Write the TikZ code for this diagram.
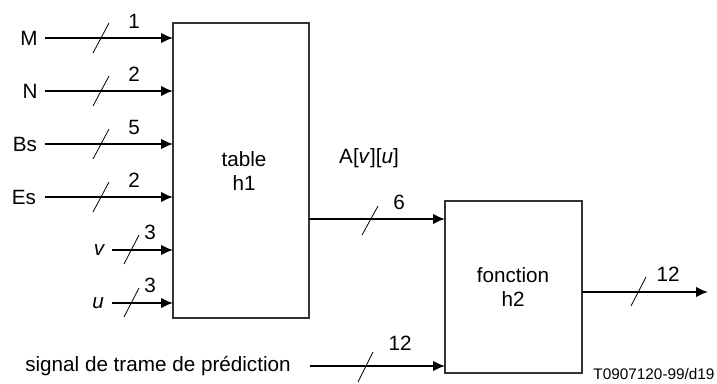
\documentclass[tikz,border=0pt]{standalone}
\usepackage{fontspec}
\setmainfont{Liberation Sans}
\usetikzlibrary{arrows.meta}
\begin{document}
\begin{tikzpicture}[x=0.75pt,y=-0.75pt,
  lbl/.style={inner sep=0pt,font=\fontsize{15.5}{17}\selectfont},
  blk/.style={draw=black!80,line width=0.9pt,inner sep=0pt},
  sig/.style={line width=1.4pt,-{Latex[length=9pt,width=8pt]}},
  slash/.style={line width=0.6pt}]
\useasboundingbox (0,0) rectangle (717,383);
% blocks
\draw[blk] (173,23) rectangle (309,318);
\node[lbl,align=center] (h1t) at (244,171) {table\\[1pt]h1};
\draw[blk] (445,201) rectangle (582,373);
\node[lbl,align=center] (h2t) at (513,287) {fonction\\[1pt]h2};
% input labels
\node[lbl] (M) at (29,38) {M};
\node[lbl] (N) at (30,91) {N};
\node[lbl] (Bs) at (25,144) {Bs};
\node[lbl] (Es) at (24,197) {Es};
\node[lbl] (v) at (99,250) {\itshape v};
\node[lbl] (u) at (98,303) {\itshape u};
\coordinate (Mi) at (173,38);
\coordinate (Ni) at (173,91);
\coordinate (Bi) at (173,144);
\coordinate (Ei) at (173,197);
\coordinate (vi) at (173,250);
\coordinate (ui) at (173,303);
\draw[sig] (45,38) -- (Mi);
\draw[sig] (45,91) -- (Ni);
\draw[sig] (45,144) -- (Bi);
\draw[sig] (45,197) -- (Ei);
\draw[sig] (112,250) -- (vi);
\draw[sig] (112,303) -- (ui);
% slashes
\foreach \y in {38,91,144,197} \draw[slash] (93,\y+15) -- (109,\y-15);
\foreach \y in {250,303} \draw[slash] (124,\y+14) -- (139,\y-15);
\node[lbl] (n1) at (134,21) {1};
\node[lbl] (n2) at (134,74) {2};
\node[lbl] (n3) at (134,127) {5};
\node[lbl] (n4) at (134,180) {2};
\node[lbl] (n5) at (150,232) {3};
\node[lbl] (n6) at (150,285) {3};
% A[v][u]
\coordinate (o1) at (309,219);
\coordinate (i2) at (445,219);
\draw[sig] (o1) -- (i2);
\draw[slash] (362,235) -- (378,206);
\node[lbl] (A) at (369,158) {A[\textit{v}][\textit{u}]};
\node[lbl] (n7) at (399,202) {6};
% output
\coordinate (o2) at (582,292);
\coordinate (out) at (708,292);
\draw[sig] (o2) -- (out);
\draw[slash] (631,306) -- (646,277);
\node[lbl] (n8) at (668,274) {12};
% bottom input
\node[lbl] (sig) at (158,366) {signal de trame de prédiction};
\coordinate (si) at (445,366);
\draw[sig] (310,366) -- (si);
\draw[slash] (358,382) -- (373,352);
\node[lbl] (n9) at (400,343) {12};
\node[inner sep=0pt,font=\fontsize{11.5}{13}\selectfont] (ref) at (654,374) {T0907120-99/d19};
\end{tikzpicture}
\end{document}
